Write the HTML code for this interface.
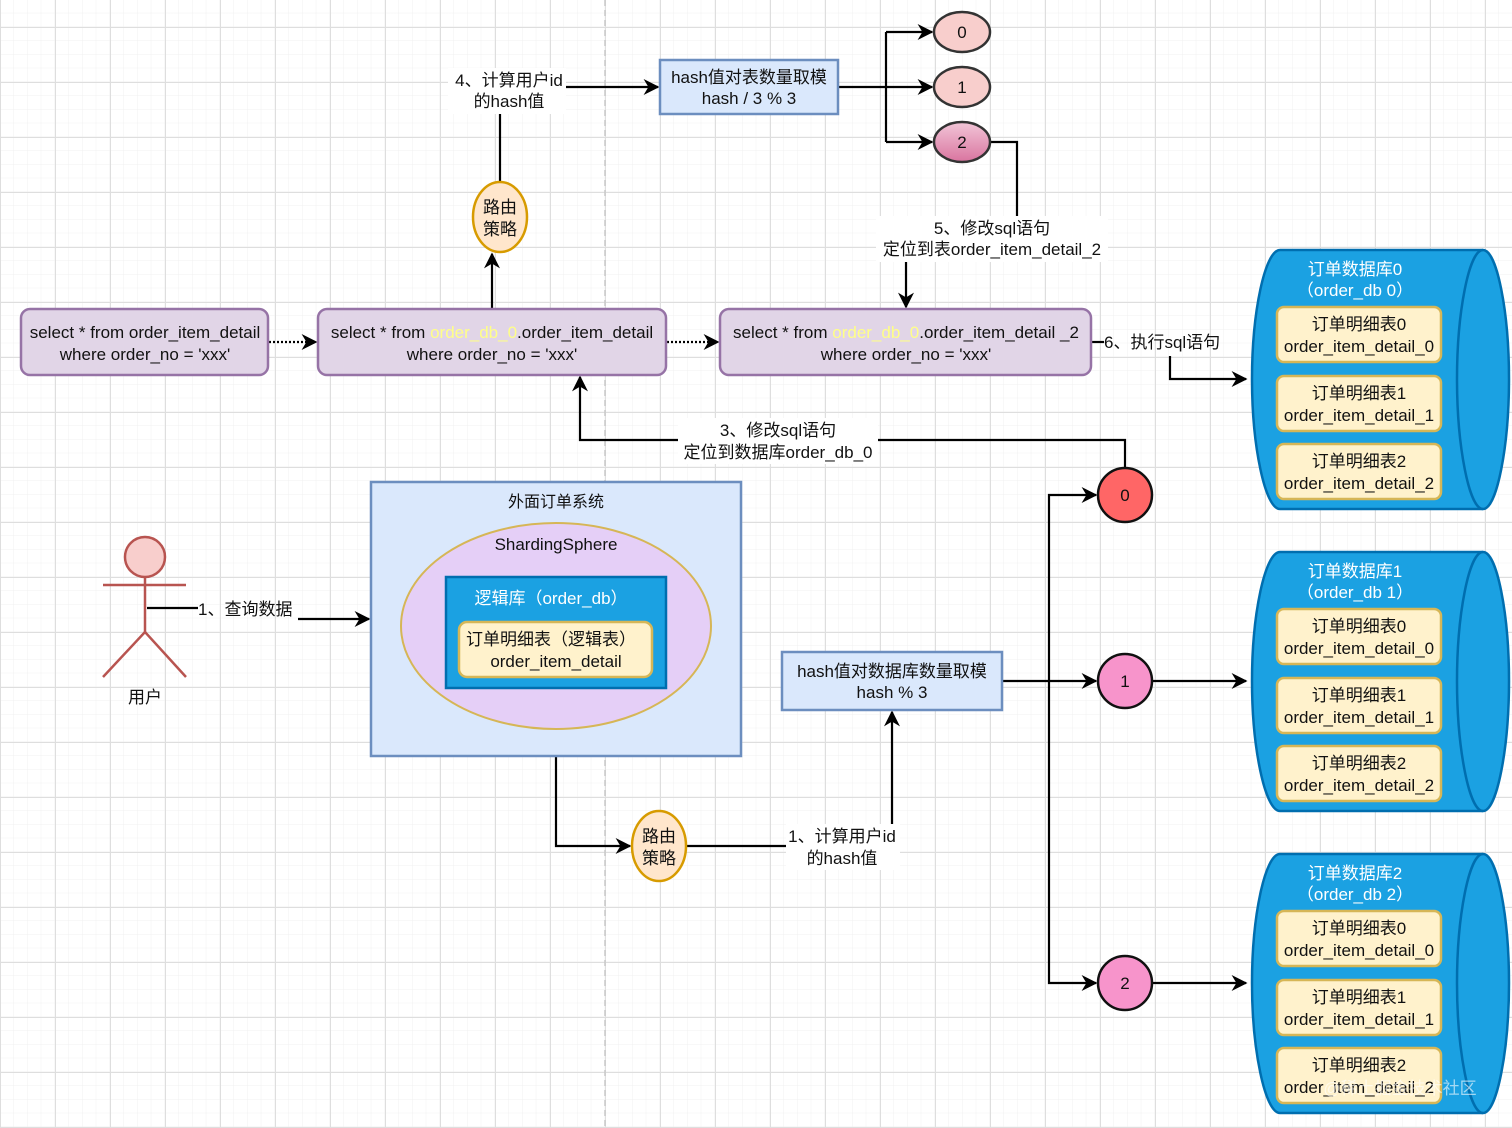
<!DOCTYPE html>
<html><head><meta charset="utf-8"><style>
html,body{margin:0;padding:0;background:#fff;}
svg{display:block;}
text{font-family:"Liberation Sans","Noto Sans CJK SC",sans-serif;font-size:17px;fill:#111;}
</style></head><body>
<svg width="1512" height="1128" viewBox="0 0 1512 1128" xmlns="http://www.w3.org/2000/svg">
<defs>
<pattern id="minor" x="0" y="27" width="13.75" height="13.75" patternUnits="userSpaceOnUse"><path d="M13.75 0V13.75M0 13.75H13.75" stroke="#f0f0f0" stroke-width="1" fill="none"/></pattern>
<pattern id="major" x="0" y="27" width="55" height="55" patternUnits="userSpaceOnUse"><path d="M0.5 0V55M0 0.5H55" stroke="#dedede" stroke-width="1" fill="none"/></pattern>
<marker id="ar" viewBox="0 0 10 10" refX="9" refY="5" markerWidth="9" markerHeight="9" markerUnits="userSpaceOnUse" orient="auto"><path d="M0 0L10 5L0 10L3 5Z" fill="#000"/></marker>
<marker id="ar2" viewBox="0 0 10 10" refX="9" refY="5" markerWidth="16" markerHeight="16" markerUnits="userSpaceOnUse" orient="auto"><path d="M0 0L10 5L0 10L3 5Z" fill="#000"/></marker>
<linearGradient id="g2" x1="0" y1="0" x2="0" y2="1"><stop offset="0" stop-color="#f2c6d8"/><stop offset="1" stop-color="#d9749f"/></linearGradient>
</defs>
<rect width="1512" height="1128" fill="url(#minor)"/>
<rect width="1512" height="1128" fill="url(#major)"/>
<line x1="605" y1="0" x2="605" y2="1128" stroke="#c8c8c8" stroke-width="1.5" stroke-dasharray="6,4"/>

<g stroke="#000" stroke-width="2.2" fill="none">
<!-- dotted arrows -->
<line x1="269" y1="342" x2="316" y2="342" stroke-dasharray="2,2" marker-end="url(#ar2)"/>
<line x1="667" y1="342" x2="718" y2="342" stroke-dasharray="2,2" marker-end="url(#ar2)"/>
<!-- B up to routing -->
<line x1="492" y1="308" x2="492" y2="254" marker-end="url(#ar2)"/>
<line x1="500" y1="182" x2="500" y2="112"/>
<line x1="565" y1="87" x2="658" y2="87" marker-end="url(#ar2)"/>
<!-- hash table to ellipses -->
<polyline points="839,87 886,87"/>
<polyline points="886,32 886,142"/>
<line x1="886" y1="32" x2="932" y2="32" marker-end="url(#ar2)"/>
<line x1="886" y1="87" x2="932" y2="87" marker-end="url(#ar2)"/>
<line x1="886" y1="142" x2="932" y2="142" marker-end="url(#ar2)"/>
<polyline points="991,142 1017,142 1017,218"/>
<line x1="906" y1="262" x2="906" y2="307" marker-end="url(#ar2)"/>
<!-- 6 -->
<polyline points="1092,342 1104,342"/>
<polyline points="1170,356 1170,379 1246,379" marker-end="url(#ar2)"/>
<!-- 3 -->
<polyline points="1125,468 1125,440 878,440"/>
<polyline points="680,440 580,440 580,377" marker-end="url(#ar2)"/>
<!-- user -->
<polyline points="147,608 198,608"/>
<polyline points="298,619 369,619" marker-end="url(#ar2)"/>
<!-- outer box down -->
<polyline points="556,730 556,846 630,846" marker-end="url(#ar2)"/>
<polyline points="687,846 786,846"/>
<line x1="892" y1="826" x2="892" y2="712" marker-end="url(#ar2)"/>
<!-- db hash -->
<line x1="1003" y1="681" x2="1096" y2="681" marker-end="url(#ar2)"/>
<polyline points="1049,681 1049,495 1096,495" marker-end="url(#ar2)"/>
<polyline points="1049,681 1049,983 1096,983" marker-end="url(#ar2)"/>
<line x1="1152" y1="681" x2="1246" y2="681" marker-end="url(#ar2)"/>
<line x1="1152" y1="983" x2="1246" y2="983" marker-end="url(#ar2)"/>
</g>

<!-- SQL boxes -->
<g stroke="#9673a6" stroke-width="2.5" fill="#e1d5e7">
<rect x="21" y="309" width="247" height="66" rx="9"/>
<rect x="318" y="309" width="348" height="66" rx="9"/>
<rect x="720" y="309" width="371" height="66" rx="9"/>
</g>
<text x="145" y="338" text-anchor="middle">select * from order_item_detail</text>
<text x="145" y="360" text-anchor="middle">where order_no = 'xxx'</text>
<text x="492" y="338" text-anchor="middle">select * from <tspan fill="#ffff88">order_db_0</tspan>.order_item_detail</text>
<text x="492" y="360" text-anchor="middle">where order_no = 'xxx'</text>
<text x="906" y="338" text-anchor="middle">select * from <tspan fill="#ffff88">order_db_0</tspan>.order_item_detail _2</text>
<text x="906" y="360" text-anchor="middle">where order_no = 'xxx'</text>

<!-- routing ellipses -->
<g fill="#ffe6cc" stroke="#d79b00" stroke-width="2.5">
<ellipse cx="500" cy="217" rx="27" ry="35"/>
<ellipse cx="659" cy="846" rx="27" ry="35"/>
</g>
<text x="500" y="213" text-anchor="middle">路由</text><text x="500" y="235" text-anchor="middle">策略</text>
<text x="659" y="842" text-anchor="middle">路由</text><text x="659" y="864" text-anchor="middle">策略</text>

<!-- labels -->
<rect x="448" y="68" width="118" height="46" fill="#fff"/>
<text x="509" y="86" text-anchor="middle">4、计算用户id</text>
<text x="509" y="107" text-anchor="middle">的hash值</text>
<rect x="876" y="216" width="232" height="46" fill="#fff"/>
<text x="992" y="234" text-anchor="middle">5、修改sql语句</text>
<text x="992" y="255" text-anchor="middle">定位到表order_item_detail_2</text>
<text x="1104" y="348">6、执行sql语句</text>
<rect x="678" y="418" width="200" height="46" fill="#fff"/>
<text x="778" y="436" text-anchor="middle">3、修改sql语句</text>
<text x="778" y="458" text-anchor="middle">定位到数据库order_db_0</text>
<text x="198" y="615">1、查询数据</text>
<rect x="786" y="824" width="114" height="46" fill="#fff"/>
<text x="842" y="842" text-anchor="middle">1、计算用户id</text>
<text x="842" y="864" text-anchor="middle">的hash值</text>

<!-- hash boxes -->
<g fill="#dae8fc" stroke="#6c8ebf" stroke-width="2.5">
<rect x="660" y="60" width="178" height="54"/>
<rect x="782" y="652" width="220" height="58"/>
</g>
<text x="749" y="83" text-anchor="middle">hash值对表数量取模</text>
<text x="749" y="104" text-anchor="middle">hash / 3 % 3</text>
<text x="892" y="677" text-anchor="middle">hash值对数据库数量取模</text>
<text x="892" y="698" text-anchor="middle">hash % 3</text>

<!-- top ellipses -->
<g stroke="#333" stroke-width="2.5">
<ellipse cx="962" cy="32" rx="28" ry="20" fill="#f8cecc"/>
<ellipse cx="962" cy="87" rx="28" ry="20" fill="#f8cecc"/>
<ellipse cx="962" cy="142" rx="28" ry="20" fill="url(#g2)"/>
</g>
<text x="962" y="38" text-anchor="middle">0</text>
<text x="962" y="93" text-anchor="middle">1</text>
<text x="962" y="148" text-anchor="middle">2</text>

<!-- db circles -->
<g stroke="#111" stroke-width="2.5">
<circle cx="1125" cy="495" r="27" fill="#ff6666"/>
<circle cx="1125" cy="681" r="27" fill="#f794cb"/>
<circle cx="1125" cy="983" r="27" fill="#f794cb"/>
</g>
<text x="1125" y="501" text-anchor="middle">0</text>
<text x="1125" y="687" text-anchor="middle">1</text>
<text x="1125" y="989" text-anchor="middle">2</text>

<!-- outer system -->
<rect x="371" y="482" width="370" height="274" fill="#dae8fc" stroke="#6c8ebf" stroke-width="2.5"/>
<text x="556" y="507" text-anchor="middle" style="font-size:16px">外面订单系统</text>
<ellipse cx="556" cy="626" rx="155" ry="103" fill="#e5cff7" stroke="#d6b656" stroke-width="2"/>
<text x="556" y="550" text-anchor="middle">ShardingSphere</text>
<rect x="446" y="577" width="220" height="111" fill="#1ba1e2" stroke="#006eaf" stroke-width="2.5"/>
<text x="551" y="604" text-anchor="middle" style="fill:#fff">逻辑库（order_db）</text>
<rect x="459" y="622" width="193" height="55" rx="8" fill="#fff2cc" stroke="#d6b656" stroke-width="2.5"/>
<text x="551" y="645" text-anchor="middle">订单明细表（逻辑表）</text>
<text x="556" y="667" text-anchor="middle">order_item_detail</text>

<!-- user -->
<g stroke="#b85450" stroke-width="2.5" fill="none">
<circle cx="145" cy="557" r="20" fill="#f8cecc"/>
<line x1="145" y1="577" x2="145" y2="632"/>
<line x1="103" y1="585" x2="186" y2="585"/>
<polyline points="103,677 145,632 186,677"/>
</g>
<text x="145" y="703" text-anchor="middle">用户</text>

<!-- databases -->
<g id="db0">
<path d="M1280 250 H1483 C1497 250 1509 312 1509 379 C1509 446 1497 509 1483 509 H1280 C1265 509 1252 446 1252 379 C1252 312 1265 250 1280 250 Z" fill="#1ba1e2" stroke="#006eaf" stroke-width="2.5"/>
<path d="M1483 250 C1469 250 1457 312 1457 379 C1457 446 1469 509 1483 509" fill="none" stroke="#006eaf" stroke-width="2.5"/>
</g>
<g transform="translate(0,302)"><path d="M1280 250 H1483 C1497 250 1509 312 1509 379 C1509 446 1497 509 1483 509 H1280 C1265 509 1252 446 1252 379 C1252 312 1265 250 1280 250 Z" fill="#1ba1e2" stroke="#006eaf" stroke-width="2.5"/>
<path d="M1483 250 C1469 250 1457 312 1457 379 C1457 446 1469 509 1483 509" fill="none" stroke="#006eaf" stroke-width="2.5"/></g>
<g transform="translate(0,604)"><path d="M1280 250 H1483 C1497 250 1509 312 1509 379 C1509 446 1497 509 1483 509 H1280 C1265 509 1252 446 1252 379 C1252 312 1265 250 1280 250 Z" fill="#1ba1e2" stroke="#006eaf" stroke-width="2.5"/>
<path d="M1483 250 C1469 250 1457 312 1457 379 C1457 446 1469 509 1483 509" fill="none" stroke="#006eaf" stroke-width="2.5"/></g>

<g style="fill:#fff">
<text x="1355" y="275" text-anchor="middle" style="fill:#fff">订单数据库0</text>
<text x="1355" y="296" text-anchor="middle" style="fill:#fff">（order_db 0）</text>
<text x="1355" y="577" text-anchor="middle" style="fill:#fff">订单数据库1</text>
<text x="1355" y="598" text-anchor="middle" style="fill:#fff">（order_db 1）</text>
<text x="1355" y="879" text-anchor="middle" style="fill:#fff">订单数据库2</text>
<text x="1355" y="900" text-anchor="middle" style="fill:#fff">（order_db 2）</text>
</g>

<g fill="#fff2cc" stroke="#d6b656" stroke-width="2.5">
<rect x="1277" y="307" width="164" height="55" rx="7"/>
<rect x="1277" y="376" width="164" height="55" rx="7"/>
<rect x="1277" y="444" width="164" height="55" rx="7"/>
<rect x="1277" y="609" width="164" height="55" rx="7"/>
<rect x="1277" y="678" width="164" height="55" rx="7"/>
<rect x="1277" y="746" width="164" height="55" rx="7"/>
<rect x="1277" y="911" width="164" height="55" rx="7"/>
<rect x="1277" y="980" width="164" height="55" rx="7"/>
<rect x="1277" y="1048" width="164" height="55" rx="7"/>
</g>
<g text-anchor="middle">
<text x="1359" y="330">订单明细表0</text><text x="1359" y="352">order_item_detail_0</text>
<text x="1359" y="399">订单明细表1</text><text x="1359" y="421">order_item_detail_1</text>
<text x="1359" y="467">订单明细表2</text><text x="1359" y="489">order_item_detail_2</text>
<text x="1359" y="632">订单明细表0</text><text x="1359" y="654">order_item_detail_0</text>
<text x="1359" y="701">订单明细表1</text><text x="1359" y="723">order_item_detail_1</text>
<text x="1359" y="769">订单明细表2</text><text x="1359" y="791">order_item_detail_2</text>
<text x="1359" y="934">订单明细表0</text><text x="1359" y="956">order_item_detail_0</text>
<text x="1359" y="1003">订单明细表1</text><text x="1359" y="1025">order_item_detail_1</text>
<text x="1359" y="1071">订单明细表2</text><text x="1359" y="1093">order_item_detail_2</text>
</g>
<text x="1400" y="1094" text-anchor="middle" style="fill:#ffffff;fill-opacity:0.6;font-size:17px">@稀土掘金技术社区</text>
</svg>
</body></html>
